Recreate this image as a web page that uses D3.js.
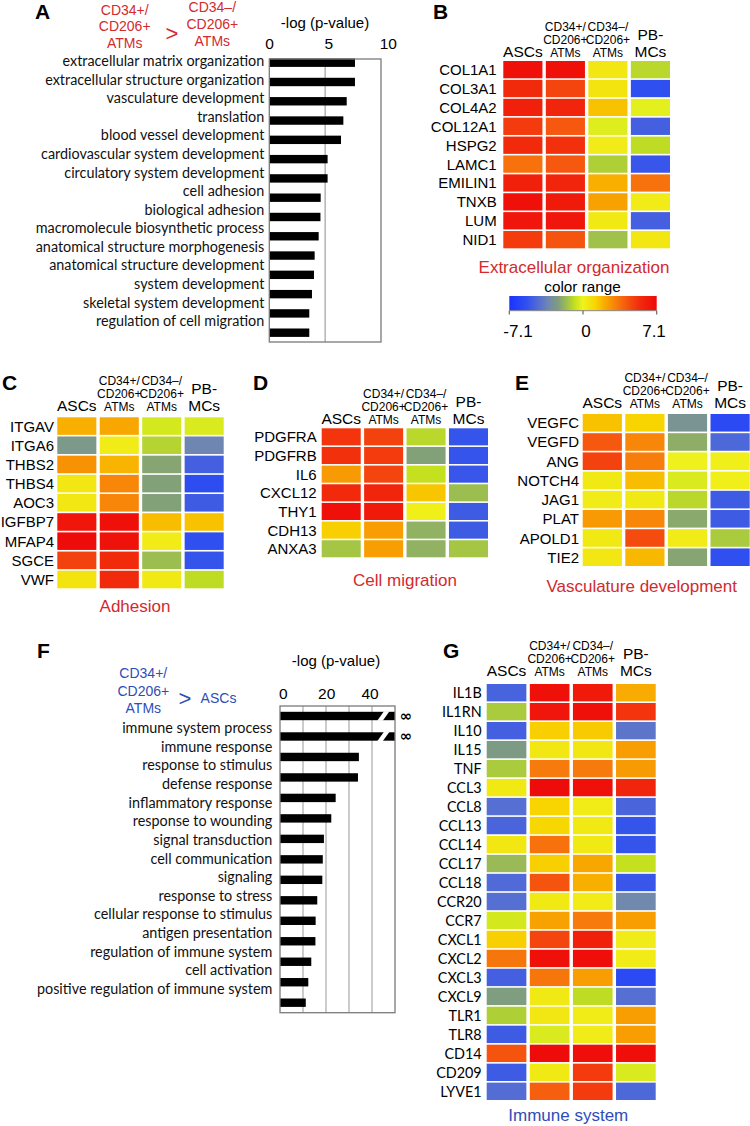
<!DOCTYPE html>
<html><head><meta charset="utf-8">
<script src="https://cdn.jsdelivr.net/npm/d3@7"></script>
<style>body{margin:0;background:#fff}svg{display:block}</style>
</head><body>
<svg id="c" width="750" height="1126"></svg>
<script>
// ---------------- DATA ----------------
const goTermsA = ["extracellular matrix organization","extracellular structure organization","vasculature development","translation","blood vessel development","cardiovascular system development","circulatory system development","cell adhesion","biological adhesion","macromolecule biosynthetic process","anatomical structure morphogenesis","anatomical structure development","system development","skeletal system development","regulation of cell migration"];
const goValuesA = [7.67,7.67,6.93,6.63,6.42,5.22,5.22,4.60,4.58,4.42,4.06,4.00,3.82,3.58,3.58];
const ticksA = [0,5,10];
const gridA = [5];

const goTermsF = ["immune system process","immune response","response to stimulus","defense response","inflammatory response","response to wounding","signal transduction","cell communication","signaling","response to stress","cellular response to stimulus","antigen presentation","regulation of immune system","cell activation","positive regulation of immune system"];
const goValuesF = [Infinity,Infinity,34.3,33.9,24.2,22.3,19.1,18.6,18.4,16.2,15.5,15.4,13.6,12.3,11.2];
const ticksF = [0,20,40];
const gridF = [10,20,30,40];

const sampleGroups = ["ASCs","CD34+/CD206+ ATMs","CD34–/CD206+ ATMs","PB-MCs"];
const headerLines = [["ASCs"],["CD34+/","CD206+","ATMs"],["CD34–/","CD206+","ATMs"],["PB-","MCs"]];

const genesB = ["COL1A1","COL3A1","COL4A2","COL12A1","HSPG2","LAMC1","EMILIN1","TNXB","LUM","NID1"];
const valuesB = [
 [6.8,6.8,0.5,-1.0],[5.5,4.7,0.6,-5.5],[6.0,5.8,1.6,-0.2],[5.0,4.2,-0.3,-4.8],[5.5,5.3,0.3,-0.9],
 [3.5,4.2,-1.2,-5.2],[6.0,5.8,2.0,3.5],[6.8,6.3,2.3,0.3],[6.5,6.5,0.4,-4.8],[5.0,4.3,-1.5,0.5]];

const genesC = ["ITGAV","ITGA6","THBS2","THBS4","AOC3","IGFBP7","MFAP4","SGCE","VWF"];
const valuesC = [
 [2.0,2.2,-0.5,-0.4],[-2.6,0.3,-1.1,-3.4],[2.7,1.9,-2.2,-4.8],[0.5,3.0,-2.3,-5.6],[0.5,3.0,-2.3,-5.0],
 [6.5,6.8,1.7,1.6],[7.0,6.7,0.3,-5.5],[4.8,5.5,-1.6,-5.3],[0.6,5.5,0.4,-0.9]];

const genesD = ["PDGFRA","PDGFRB","IL6","CXCL12","THY1","CDH13","ANXA3"];
const valuesD = [
 [5.2,4.8,-1.0,-5.3],[5.3,5.0,-2.3,-5.3],[2.5,4.7,-0.8,-5.2],[5.5,5.8,1.5,-1.6],
 [6.8,6.3,0.2,-5.0],[1.3,2.4,-1.9,-5.0],[-1.4,2.4,-1.9,-1.4]];

const genesE = ["VEGFC","VEGFD","ANG","NOTCH4","JAG1","PLAT","APOLD1","TIE2"];
const valuesE = [
 [1.6,1.2,-2.8,-5.8],[4.2,3.0,-2.0,-4.5],[4.8,3.2,0.1,0.2],[0.4,1.7,-0.4,0.2],
 [0.3,0.4,-1.0,-5.0],[2.5,3.0,-2.1,-5.0],[0.4,4.5,0.3,-1.3],[0.5,1.8,-2.2,-5.5]];

const genesG = ["IL1B","IL1RN","IL10","IL15","TNF","CCL3","CCL8","CCL13","CCL14","CCL17","CCL18","CCR20","CCR7","CXCL1","CXCL2","CXCL3","CXCL9","TLR1","TLR8","CD14","CD209","LYVE1"];
const valuesG = [
 [-4.7,6.8,6.3,2.1],[-1.3,6.5,6.8,5.2],[-4.8,1.3,1.4,-4.0],[-2.5,0.5,0.5,2.4],[-1.3,3.3,3.3,2.5],
 [0.4,7.0,6.8,5.8],[-4.2,1.2,0.3,-4.6],[-4.6,1.1,0.4,-5.3],[0.5,3.5,0.4,-5.3],[-1.7,1.3,2.2,-0.8],
 [-4.4,4.3,2.0,-5.2],[-4.2,0.4,0.3,-3.3],[-0.5,2.3,3.3,2.4],[1.3,4.7,6.0,0.3],[3.4,6.8,6.9,0.3],
 [-4.8,3.4,2.4,-5.8],[-2.4,0.4,-0.9,-4.2],[-1.2,0.5,0.3,2.4],[-5.0,-0.4,0.3,2.4],[4.3,7.0,6.9,6.9],
 [-5.0,0.4,5.0,-0.4],[-4.3,4.0,5.0,-4.5]];

const colorStops = [-7.1,-5.5,-4.2,-3.3,-2.4,-1.5,-0.8,0,1.2,2.2,3.3,4.5,5.5,7.1];
const colorRange = ["#1a33ff","#2f4ff0","#566fd2","#7189ad","#7f9d7f","#a0c24a","#c4e01e","#eef41e","#f8d400","#f8a600","#f77a0c","#f44c0e","#f22a0c","#ee0a0a"];
const legendTicks = [-7.1,0,7.1];
const legendLabels = ["-7.1","0","7.1"];

// ---------------- DRAW ----------------
const svg = d3.select("#c");
const SANS = "'Liberation Sans', Arial, sans-serif";
const HUM = "Lato, 'Open Sans', sans-serif";
const RED = "#d22a2e", BLUE = "#2f4db8";
const color = d3.scaleLinear().domain(colorStops).range(colorRange).clamp(true);

const tmp = svg.append("text").attr("font-family",HUM).attr("font-size",100).text(goTermsA[0]);
const humSize = 100*202/tmp.node().getComputedTextLength();
tmp.remove();

function txt(g,x,y,s,opt){
  opt = opt||{};
  return g.append("text").attr("x",x).attr("y",y).text(s)
    .attr("font-family",opt.ff||SANS).attr("font-size",opt.fs||15)
    .attr("font-weight",opt.fw||"normal").attr("fill",opt.fill||"#000")
    .attr("text-anchor",opt.anchor||"middle")
    .attr("dominant-baseline",opt.db||"central");
}

// panel letters
[["A",35,19],["B",433,19],["C",2,390],["D",253,390],["E",515,390],["F",37,658],["G",443,658]].forEach(l=>{
  txt(svg,l[1],l[2],l[0],{fs:21,fw:"bold",anchor:"start",db:"alphabetic"});
});

// ---------- Panel A ----------
(function(){
  const g = svg.append("g");
  const x = d3.scaleLinear().domain([0,10]).range([269.3,381]);
  const xl = d3.scaleLinear().domain([0,10]).range([269.5,388.3]);
  const yb = d3.scalePoint().domain(d3.range(goValuesA.length)).range([62.7,332.7]);
  const yl = d3.scalePoint().domain(d3.range(goTermsA.length)).range([60.7,320.7]);
  const top=59,bot=342;
  g.selectAll(".grid").data(gridA).join("line").attr("x1",d=>x(d)).attr("x2",d=>x(d)).attr("y1",top).attr("y2",bot).attr("stroke","#a8a8a8").attr("stroke-width",1.3);
  g.selectAll(".bar").data(goValuesA).join("rect").attr("x",x(0)).attr("y",(d,i)=>yb(i)-4.2).attr("width",d=>x(d)-x(0)).attr("height",8.4).attr("fill","#000");
  g.append("rect").attr("x",x(0)).attr("y",top).attr("width",x(10)-x(0)).attr("height",bot-top).attr("fill","none").attr("stroke","#7a7a7a").attr("stroke-width",1.3);
  g.selectAll(".tick").data(ticksA).join("text").attr("x",d=>xl(d)).attr("y",43).attr("text-anchor","middle").attr("dominant-baseline","central").attr("font-family",SANS).attr("font-size",15.5).text(d=>d);
  txt(g,325,22,"-log (p-value)",{fs:15});
  g.selectAll(".lab").data(goTermsA).join("text").attr("x",264.3).attr("y",(d,i)=>yl(i)).attr("text-anchor","end").attr("dominant-baseline","central").attr("font-family",HUM).attr("font-size",humSize).attr("fill","#111").text(d=>d);
  [["CD34+/",124.7,9.5],["CD206+",124.7,25.5],["ATMs",124.7,42.5],["CD34–/",212.3,6.7],["CD206+",212.3,24],["ATMs",212.3,40.7]].forEach(t=>txt(g,t[1],t[2],t[0],{fs:14,fill:RED}));
  txt(g,172,33,">",{fs:22,fill:RED});
})();

// ---------- Panel F ----------
(function(){
  const g = svg.append("g");
  const x = d3.scaleLinear().domain([0,50]).range([280,395]);
  const xl = d3.scaleLinear().domain([0,50]).range([283.3,391.7]);
  const yb = d3.scalePoint().domain(d3.range(goValuesF.length)).range([716,1002.7]);
  const yl = d3.scalePoint().domain(d3.range(goTermsF.length)).range([727.7,988.3]);
  const top=706,bot=1012.7;
  g.selectAll(".grid").data(gridF).join("line").attr("x1",d=>x(d)).attr("x2",d=>x(d)).attr("y1",top).attr("y2",bot).attr("stroke","#b0b0b0").attr("stroke-width",1.3);
  const vmax = x.domain()[1];
  g.selectAll(".bar").data(goValuesF).join("rect").attr("x",x(0)).attr("y",(d,i)=>yb(i)-4.2).attr("width",d=>x(Math.min(d,vmax))-x(0)).attr("height",8.4).attr("fill","#000");
  const inf = goValuesF.map((d,i)=>({d,i})).filter(o=>!isFinite(o.d));
  g.selectAll(".brk").data(inf).join("polygon").attr("fill","#fff").attr("points",o=>{
    const c=yb(o.i), r=x(vmax);
    return [[r-11,c-4.8],[r-5.5,c-4.8],[r-12.3,c+4.8],[r-17.8,c+4.8]].map(p=>p.join(",")).join(" ");
  });
  g.selectAll(".inf").data(inf).join("text").attr("x",x(vmax)+11).attr("y",o=>yb(o.i)).attr("text-anchor","middle").attr("dominant-baseline","central").attr("font-family","'DejaVu Sans', sans-serif").attr("font-weight","bold").attr("font-size",15).text("∞");
  g.append("rect").attr("x",x(0)).attr("y",top).attr("width",x(50)-x(0)).attr("height",bot-top).attr("fill","none").attr("stroke","#7a7a7a").attr("stroke-width",1.3);
  g.selectAll(".tick").data(ticksF).join("text").attr("x",d=>xl(d)).attr("y",693).attr("text-anchor","middle").attr("dominant-baseline","central").attr("font-family",SANS).attr("font-size",15.5).text(d=>d);
  txt(g,336,660,"-log (p-value)",{fs:15});
  g.selectAll(".lab").data(goTermsF).join("text").attr("x",272.3).attr("y",(d,i)=>yl(i)).attr("text-anchor","end").attr("dominant-baseline","central").attr("font-family",HUM).attr("font-size",humSize).attr("fill","#111").text(d=>d);
  [["CD34+/",143.3,673.3],["CD206+",143.3,691],["ATMs",143.3,708.3]].forEach(t=>txt(g,t[1],t[2],t[0],{fs:14,fill:BLUE}));
  txt(g,185,698.3,">",{fs:22,fill:BLUE});
  txt(g,218.5,698.3,"ASCs",{fs:14,fill:BLUE});
})();

// ---------- Heatmaps ----------
function heatmap(p){
  const g = svg.append("g");
  const x = d3.scaleBand().domain(sampleGroups).range([p.x0,p.x1]).paddingInner(0.08);
  const y = d3.scaleBand().domain(p.genes).range([p.y0,p.y1]).paddingInner(0.085);
  p.genes.forEach((gene,i)=>{
    g.selectAll(null).data(p.values[i]).join("rect")
      .attr("x",(d,j)=>x(sampleGroups[j])).attr("y",y(gene))
      .attr("width",x.bandwidth()).attr("height",y.bandwidth())
      .attr("fill",d=>color(d));
  });
  g.selectAll(null).data(p.genes).join("text")
    .attr("x",p.labelX).attr("y",d=>y(d)+y.bandwidth()/2)
    .attr("text-anchor","end").attr("dominant-baseline","central")
    .attr("font-family",p.labelFont).attr("font-size",p.labelSize).attr("fill","#000").text(d=>d);
  sampleGroups.forEach((s,j)=>{
    const cx = x(s)+x.bandwidth()/2, lines = headerLines[j];
    const small = lines.length===3;
    const fs = small?12:15.5, lh = small?13:16.8;
    lines.forEach((ln,k)=>{
      txt(g,cx,p.hdrBase-lh*(lines.length-1-k),ln,{fs:fs,db:"alphabetic"});
    });
  });
  txt(g,p.titleX,p.titleY,p.title,{fs:17,fill:p.titleColor});
  return {x,y};
}

heatmap({genes:genesB,values:valuesB,x0:503.3,x1:670,y0:61,y1:248.3,labelX:496.7,labelFont:SANS,labelSize:15,hdrBase:56.5,title:"Extracellular organization",titleX:574,titleY:267.7,titleColor:RED});
heatmap({genes:genesC,values:valuesC,x0:57.3,x1:223.7,y0:417.3,y1:588.3,labelX:54,labelFont:SANS,labelSize:15,hdrBase:410.5,title:"Adhesion",titleX:135,titleY:606.7,titleColor:RED});
heatmap({genes:genesD,values:valuesD,x0:321.7,x1:488,y0:428.3,y1:557.3,labelX:316.7,labelFont:SANS,labelSize:15,hdrBase:424,title:"Cell migration",titleX:405,titleY:580,titleColor:RED});
heatmap({genes:genesE,values:valuesE,x0:582.7,x1:749.7,y0:414,y1:566,labelX:579,labelFont:SANS,labelSize:15,hdrBase:407.5,title:"Vasculature development",titleX:641.7,titleY:586.7,titleColor:RED});
heatmap({genes:genesG,values:valuesG,x0:486.7,x1:655.7,y0:684,y1:1100,labelX:481.7,labelFont:HUM,labelSize:humSize,hdrBase:675.5,title:"Immune system",titleX:568.3,titleY:1115,titleColor:BLUE});

// ---------- Legend ----------
(function(){
  const g = svg.append("g");
  const lx = d3.scaleLinear().domain([colorStops[0],colorStops[colorStops.length-1]]).range([509.3,656.7]);
  const ll = d3.scaleLinear().domain(lx.domain()).range([518,654]);
  const grad = svg.append("defs").append("linearGradient").attr("id","lg").attr("x1","0%").attr("x2","100%");
  grad.selectAll("stop").data(colorStops).join("stop")
    .attr("offset",d=>((lx(d)-lx.range()[0])/(lx.range()[1]-lx.range()[0])*100)+"%")
    .attr("stop-color",d=>color(d));
  g.append("rect").attr("x",lx.range()[0]).attr("y",296).attr("width",lx.range()[1]-lx.range()[0]).attr("height",14.7).attr("fill","url(#lg)");
  g.append("line").attr("x1",lx.range()[0]).attr("x2",lx.range()[1]).attr("y1",310.7).attr("y2",310.7).attr("stroke","#888").attr("stroke-width",1);
  g.selectAll(".lt").data(legendTicks).join("line").attr("x1",d=>lx(d)).attr("x2",d=>lx(d)).attr("y1",310.7).attr("y2",314.5).attr("stroke","#666").attr("stroke-width",1.2);
  g.selectAll(".ll").data(legendTicks).join("text").attr("x",d=>ll(d)).attr("y",331).attr("text-anchor","middle").attr("dominant-baseline","central").attr("font-family",SANS).attr("font-size",17).text((d,i)=>legendLabels[i]);
  txt(g,582.5,286,"color range",{fs:15.3});
})();
</script>
</body></html>
